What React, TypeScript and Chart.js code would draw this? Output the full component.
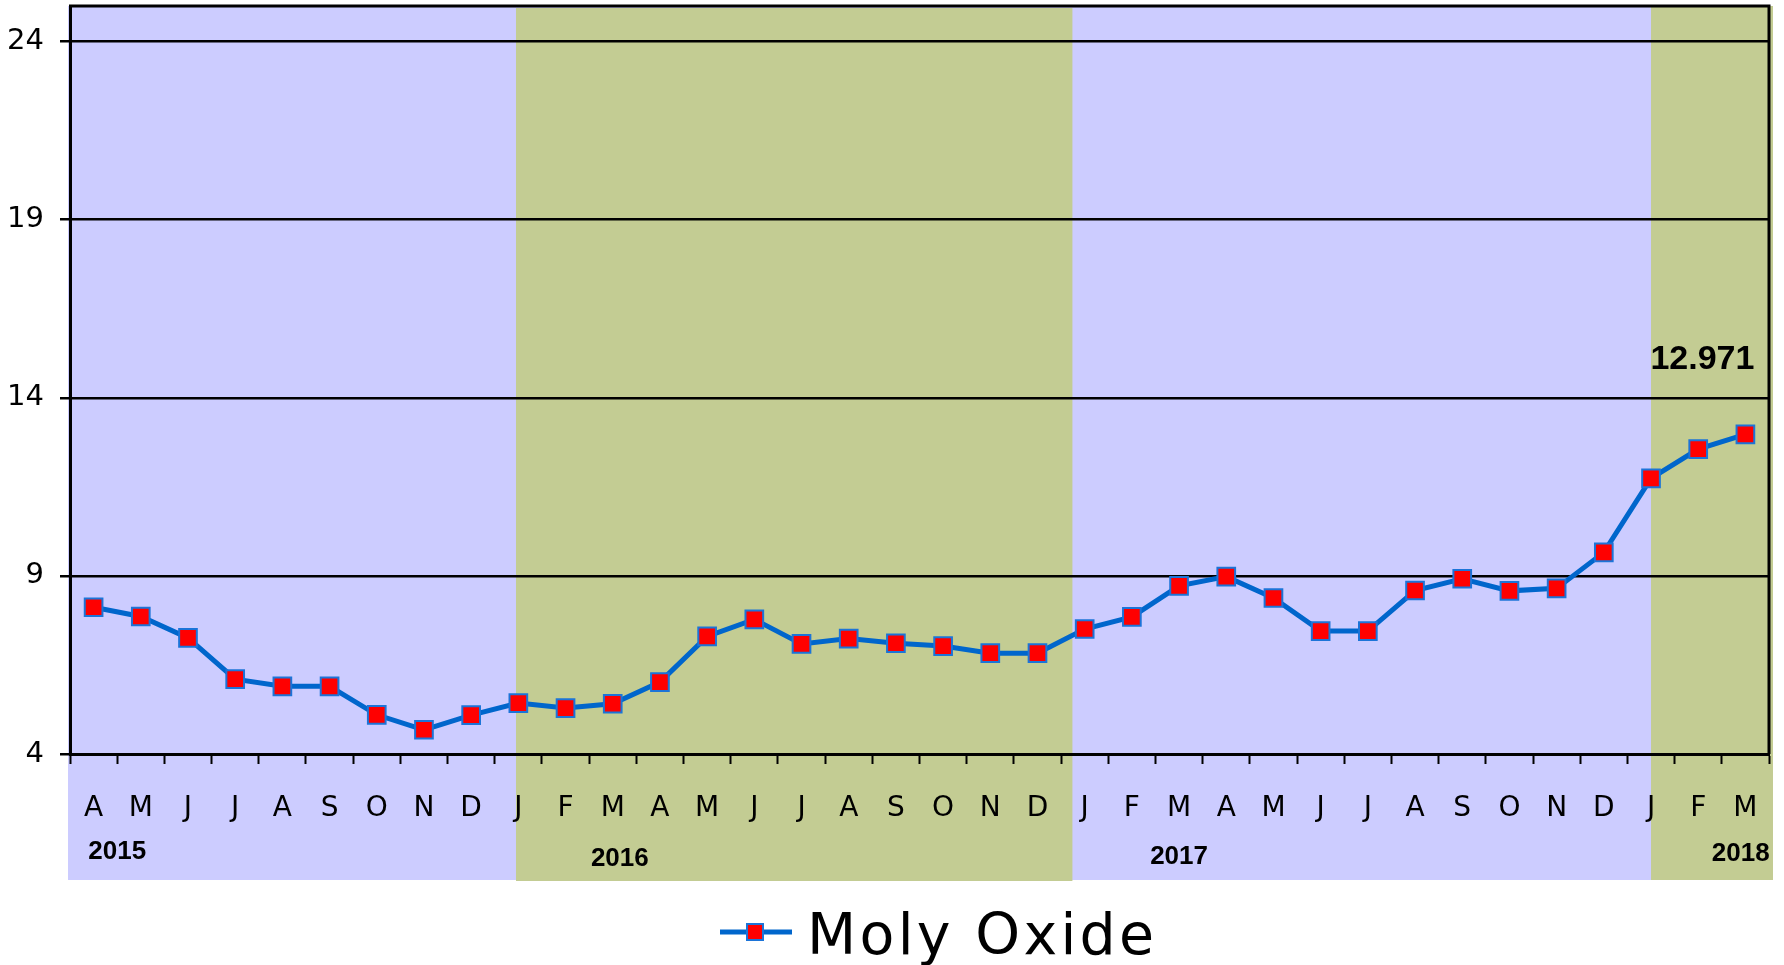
import React, { useEffect, useRef } from 'react';
import { Chart, registerables } from 'chart.js';

Chart.register(...registerables);

const months = ['A', 'M', 'J', 'J', 'A', 'S', 'O', 'N', 'D', 'J', 'F', 'M', 'A', 'M', 'J', 'J', 'A', 'S', 'O', 'N', 'D', 'J', 'F', 'M', 'A', 'M', 'J', 'J', 'A', 'S', 'O', 'N', 'D', 'J', 'F', 'M'];
const molyOxide = [8.12, 7.86, 7.26, 6.1, 5.9, 5.9, 5.1, 4.68, 5.09, 5.43, 5.29, 5.41, 6.02, 7.3, 7.78, 7.09, 7.24, 7.11, 7.03, 6.83, 6.83, 7.51, 7.85, 8.72, 8.98, 8.38, 7.45, 7.45, 8.59, 8.92, 8.58, 8.65, 9.66, 11.74, 12.56, 12.971];
const yTickValues = [4, 9, 14, 19, 24];
const yearLabels = ['2015', '2016', '2017', '2018'];

const BLUE_BAND = '#CCCCFF';
const GREEN_BAND = '#C3CC93';

const bandsPlugin = {
  id: 'bands',
  beforeDraw(chart: any) {
    const { ctx, chartArea: ca, scales } = chart;
    const x = scales.x;
    const top = ca.top;
    const bottom = ca.bottom + 126;
    ctx.save();
    ctx.fillStyle = BLUE_BAND;
    ctx.fillRect(ca.left - 2, top, ca.right + 4 - (ca.left - 2), bottom - top);
    ctx.fillStyle = GREEN_BAND;
    const g1a = x.getPixelForValue(8.95);
    const g1b = x.getPixelForValue(20.74);
    ctx.fillRect(g1a, top + 2, g1b - g1a, bottom - top - 1);
    const g2a = x.getPixelForValue(33);
    const g2b = ca.right + 4;
    ctx.fillRect(g2a, top, g2b - g2a, bottom - top);
    ctx.restore();
  },
  beforeDatasetsDraw(chart: any) {
    const { ctx, chartArea: ca } = chart;
    ctx.save();
    ctx.strokeStyle = '#000';
    ctx.lineWidth = 3;
    ctx.beginPath();
    ctx.moveTo(ca.left - 1, ca.top);
    ctx.lineTo(ca.right, ca.top);
    ctx.lineTo(ca.right, ca.bottom);
    ctx.stroke();
    ctx.restore();
  },
  afterDraw(chart: any) {
    const { ctx, chartArea: ca, scales } = chart;
    const x = scales.x;
    const y = scales.y;
    ctx.save();
    ctx.fillStyle = '#000';
    ctx.font = 'bold 26px "Liberation Sans", Arial, sans-serif';
    ctx.textAlign = 'center';
    ctx.textBaseline = 'middle';
    const anchors = [0.5, 11.15, 23, 34.9];
    const offs = [98, 105, 103, 100];
    yearLabels.forEach((t, i) => {
      ctx.fillText(t, x.getPixelForValue(anchors[i]), ca.bottom + offs[i]);
    });
    const last = molyOxide.length - 1;
    const lx = x.getPixelForValue(last);
    const ly = y.getPixelForValue(molyOxide[last]);
    ctx.font = 'bold 34px "Liberation Sans", Arial, sans-serif';
    ctx.fillText(String(molyOxide[last]), lx - 43, ly - 75);
    const ds = chart.data.datasets[0];
    const legY = 932;
    const lx0 = 720;
    ctx.strokeStyle = ds.borderColor;
    ctx.lineWidth = 5;
    ctx.beginPath();
    ctx.moveTo(lx0, legY);
    ctx.lineTo(lx0 + 72, legY);
    ctx.stroke();
    ctx.fillStyle = ds.pointBackgroundColor;
    ctx.fillRect(lx0 + 27, legY - 8, 16, 16);
    ctx.strokeStyle = ds.pointBorderColor;
    ctx.lineWidth = 2;
    ctx.strokeRect(lx0 + 27, legY - 8, 16, 16);
    ctx.fillStyle = '#000';
    ctx.font = '57px "DejaVu Sans", Verdana, sans-serif';
    ctx.textAlign = 'left';
    ctx.textBaseline = 'alphabetic';
    try { (ctx as any).letterSpacing = '3.3px'; } catch (e) {}
    ctx.fillText(ds.label, 807, 954);
    ctx.restore();
  },
};

export default function App() {
  const ref = useRef<HTMLCanvasElement | null>(null);
  useEffect(() => {
    document.body.style.margin = '0';
    if (!ref.current) return;
    const chart = new Chart(ref.current, {
      type: 'line',
      data: {
        labels: months,
        datasets: [
          {
            label: 'Moly Oxide',
            data: molyOxide,
            borderColor: '#0066CC',
            borderWidth: 5,
            pointStyle: 'rect',
            pointRadius: 12.5,
            pointHoverRadius: 12.5,
            pointBackgroundColor: '#FF0000',
            pointBorderColor: '#1C74D8',
            pointBorderWidth: 2,
            fill: false,
            tension: 0,
            clip: false,
          },
        ],
      },
      options: {
        responsive: false,
        animation: false,
        layout: { autoPadding: false, padding: { top: 6, right: 15, left: 0, bottom: 0 } },
        plugins: {
          legend: { display: false },
          tooltip: { enabled: false },
        },
        scales: {
          x: {
            type: 'category',
            offset: true,
            grid: {
              offset: true,
              drawOnChartArea: false,
              drawTicks: true,
              tickLength: 10,
              tickWidth: 2,
              tickColor: '#000',
            },
            border: { display: true, color: '#000', width: 3 },
            ticks: {
              font: { family: '"DejaVu Sans", Verdana, sans-serif', size: 28 },
              color: '#000',
              padding: 28,
              maxRotation: 0,
              autoSkip: false,
            },
            afterFit: (s: any) => {
              s.height = 211;
              s.paddingLeft = 0;
              s.paddingRight = 0;
            },
          },
          y: {
            min: 4,
            max: 25,
            afterBuildTicks: (s: any) => {
              s.ticks = yTickValues.map((v) => ({ value: v }));
            },
            grid: {
              color: '#000',
              lineWidth: 2.5,
              tickLength: 10,
              tickColor: '#000',
              tickWidth: 2.5,
            },
            border: { display: true, color: '#000', width: 3 },
            ticks: {
              font: { family: '"DejaVu Sans", Verdana, sans-serif', size: 29 },
              color: '#000',
              padding: 16,
            },
            afterFit: (s: any) => {
              s.width = 70;
              s.paddingTop = 0;
              s.paddingBottom = 0;
            },
          },
        },
      },
      plugins: [bandsPlugin],
    });
    return () => chart.destroy();
  }, []);
  return (
    <div style={{ position: 'absolute', left: 0, top: 0, width: 1784, height: 965 }}>
      <canvas ref={ref} width={1784} height={965} style={{ display: 'block' }} />
    </div>
  );
}
